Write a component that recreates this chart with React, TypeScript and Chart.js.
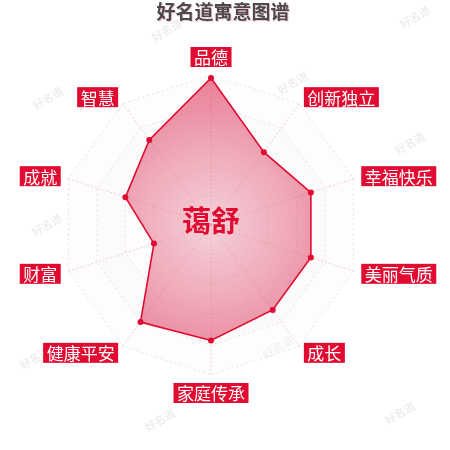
import React, { useEffect, useRef } from "react";
import { Chart, registerables } from "chart.js";

Chart.register(...registerables);

const TITLE = "好名道寓意图谱";
const NAME = "蔼舒";
const CATEGORIES = ["品德", "创新独立", "幸福快乐", "美丽气质", "成长", "家庭传承", "健康平安", "财富", "成就", "智慧"];
const SCORES = [98, 60, 70, 70, 70, 77, 80, 40, 60, 70];
const SCALE_MAX = 100;
const RING_STEP = 20;
const WATERMARK = "好名道";
const WATERMARK_SPOTS: number[][] = [
  [167, 30], [415, 17], [48, 98], [293, 83], [410, 143], [47, 225],
  [35, 358], [278, 347], [160, 420], [400, 413],
];

const RED = "#e10a30";
const FONT = "'Noto Sans CJK SC', 'Noto Sans', sans-serif";

function decagon(ctx: CanvasRenderingContext2D, scale: any, r: number) {
  const n = CATEGORIES.length;
  for (let i = 0; i < n; i++) {
    const p = scale.getPointPosition(i, r);
    if (i === 0) ctx.moveTo(p.x, p.y);
    else ctx.lineTo(p.x, p.y);
  }
  ctx.closePath();
}

const backgroundPlugin = {
  id: "bgDecor",
  beforeDraw(chart: any) {
    const ctx: CanvasRenderingContext2D = chart.ctx;
    const scale = chart.scales.r;
    ctx.save();
    // watermarks
    ctx.fillStyle = "rgba(0,0,0,0.07)";
    ctx.font = `bold 11px ${FONT}`;
    ctx.textAlign = "center";
    ctx.textBaseline = "middle";
    WATERMARK_SPOTS.forEach(([x, y]) => {
      ctx.save();
      ctx.translate(x, y);
      ctx.rotate(-Math.PI / 6);
      ctx.fillText(WATERMARK, 0, 0);
      ctx.restore();
    });
    // split areas
    if (scale) {
      const rings = SCALE_MAX / RING_STEP;
      for (let k = 0; k < rings; k++) {
        const r0 = scale.getDistanceFromCenterForValue(k * RING_STEP);
        const r1 = scale.getDistanceFromCenterForValue((k + 1) * RING_STEP);
        ctx.beginPath();
        decagon(ctx, scale, r1);
        if (r0 > 0) decagon(ctx, scale, r0);
        ctx.fillStyle = k % 2 === 0 ? "rgba(250,250,250,0.3)" : "rgba(200,200,200,0.08)";
        ctx.fill("evenodd");
      }
    }
    ctx.restore();
  },
};

const labelPlugin = {
  id: "labelDecor",
  afterDraw(chart: any) {
    const ctx: CanvasRenderingContext2D = chart.ctx;
    const scale = chart.scales.r;
    if (!scale) return;
    ctx.save();
    // center name
    ctx.font = `bold 29px ${FONT}`;
    ctx.fillStyle = RED;
    ctx.textAlign = "center";
    ctx.textBaseline = "middle";
    ctx.fillText(NAME, scale.xCenter, scale.yCenter - 4);
    // point labels
    ctx.font = `17px ${FONT}`;
    const n = CATEGORIES.length;
    const padX = 3.5;
    const boxH = 20;
    for (let i = 0; i < n; i++) {
      const p = scale.getPointPosition(i, scale.drawingArea + 8);
      const deg = Math.round((i * 360) / n);
      const tw = ctx.measureText(CATEGORIES[i]).width;
      const bw = tw + padX * 2;
      let left: number;
      let top: number;
      if (deg === 0) {
        left = p.x - bw / 2;
        top = p.y - boxH;
      } else if (deg === 180) {
        left = p.x - bw / 2;
        top = p.y;
      } else if (deg < 180) {
        left = p.x;
        top = p.y - boxH / 2;
      } else {
        left = p.x - bw;
        top = p.y - boxH / 2;
      }
      ctx.fillStyle = RED;
      ctx.fillRect(left, top, bw, boxH);
      ctx.fillStyle = "#ffffff";
      ctx.textAlign = "center";
      ctx.textBaseline = "middle";
      ctx.fillText(CATEGORIES[i], left + bw / 2, top + boxH / 2 + 1);
    }
    ctx.restore();
  },
};

export default function App() {
  const ref = useRef<HTMLCanvasElement | null>(null);

  useEffect(() => {
    if (!ref.current) return;
    const chart = new Chart(ref.current, {
      type: "radar",
      data: {
        labels: CATEGORIES,
        datasets: [
          {
            label: NAME,
            data: SCORES,
            borderColor: RED,
            borderWidth: 1.6,
            pointRadius: 3,
            pointBackgroundColor: RED,
            pointBorderWidth: 0,
            fill: true,
            backgroundColor: (c: any) => {
              const chart = c.chart;
              const s = chart.scales && chart.scales.r;
              if (!s || !s.drawingArea) return "rgba(230,90,120,0.5)";
              const g = chart.ctx.createRadialGradient(s.xCenter, s.yCenter, 0, s.xCenter, s.yCenter, s.drawingArea);
              g.addColorStop(0, "rgba(238,165,182,0.5)");
              g.addColorStop(1, "rgba(220,40,80,0.6)");
              return g;
            },
          },
        ],
      },
      options: {
        animation: false,
        responsive: false,
        maintainAspectRatio: false,
        devicePixelRatio: 1,
        layout: { padding: { left: 61, right: 89, top: 75, bottom: 75 } },
        plugins: {
          legend: { display: false },
          tooltip: { enabled: false },
          title: { display: false },
        },
        scales: {
          r: {
            min: 0,
            max: SCALE_MAX,
            ticks: { display: false, stepSize: RING_STEP },
            pointLabels: { display: false },
            grid: { color: "rgba(195,195,195,0.45)", lineWidth: 1 },
            border: { dash: [2, 3] },
            angleLines: { color: "rgba(230,110,135,0.35)", lineWidth: 1, borderDash: [2, 2] },
          },
        },
      } as any,
      plugins: [backgroundPlugin, labelPlugin],
    });
    return () => chart.destroy();
  }, []);

  return (
    <div style={{ position: "absolute", left: 0, top: 0, width: 450, height: 450, background: "#fff" }}>
      <canvas ref={ref} width={450} height={450} style={{ position: "absolute", left: 0, top: 0 }} />
      <div
        style={{
          position: "absolute",
          left: -2,
          top: 1,
          width: 450,
          textAlign: "center",
          fontFamily: FONT,
          fontWeight: "bold",
          fontSize: 19,
          lineHeight: "19px",
          color: "#4a4a4a",
          textShadow: "1px 1px 0 rgba(235,150,170,0.55)",
        }}
      >
        {TITLE}
      </div>
    </div>
  );
}
